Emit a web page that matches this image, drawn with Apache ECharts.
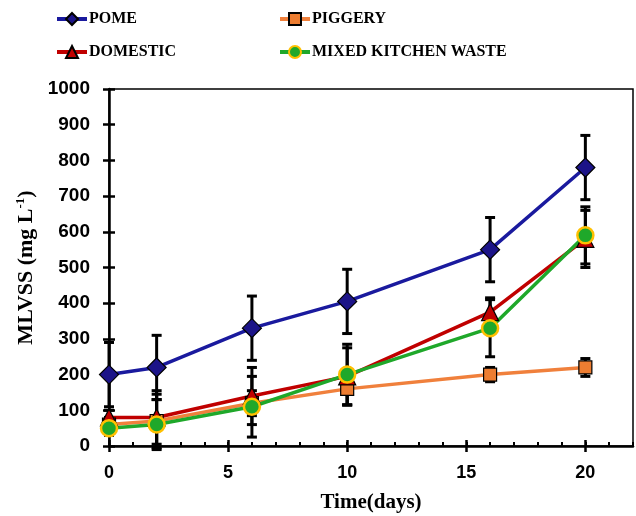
<!DOCTYPE html>
<html>
<head>
<meta charset="utf-8">
<script src="https://cdn.jsdelivr.net/npm/echarts@6/dist/echarts.min.js"></script>
<style>
  html, body { margin: 0; padding: 0; background: #fff; }
  #chart { width: 636px; height: 516px; }
</style>
</head>
<body>
<div id="chart"></div>
<script>
const days = [0, 2, 6, 10, 16, 20];

const pome = [200, 220, 330, 405, 550, 780];
const pomeErr = [90, 90, 90, 90, 90, 90];
const piggery = [60, 70, 120, 160, 200, 220];
const piggeryErr = [20, 75, 35, 45, 20, 25];
const domestic = [80, 80, 140, 195, 375, 580];
const domesticErr = [20, 75, 80, 80, 40, 80];
const mixed = [50, 60, 110, 200, 330, 590];
const mixedErr = [20, 70, 85, 85, 80, 80];

const xTicks = [0, 5, 10, 15, 20];
const yTicks = [0, 100, 200, 300, 400, 500, 600, 700, 800, 900, 1000];

const serif = '"Liberation Serif", "Times New Roman", serif';
const sans = '"Liberation Sans", Arial, sans-serif';

const chart = echarts.init(document.getElementById('chart'));

// 数据转换
const pairs = (vals) => vals.map((v, i) => [days[i], v]);
const errRows = (vals, errs) => vals.map((v, i) => [days[i], v - errs[i], v + errs[i]]);

const errorBars = (name, vals, errs) => ({
  name: name + ' err',
  type: 'custom',
  z: 1,
  silent: true,
  data: errRows(vals, errs),
  encode: { x: 0, y: [1, 2] },
  renderItem: (params, api) => {
    const lo = api.coord([api.value(0), api.value(1)]);
    const hi = api.coord([api.value(0), api.value(2)]);
    const cap = 5;
    const style = { stroke: '#000', lineWidth: 3 };
    return {
      type: 'group',
      children: [
        { type: 'line', shape: { x1: lo[0], y1: lo[1], x2: hi[0], y2: hi[1] }, style },
        { type: 'line', shape: { x1: lo[0] - cap, y1: lo[1], x2: lo[0] + cap, y2: lo[1] }, style },
        { type: 'line', shape: { x1: hi[0] - cap, y1: hi[1], x2: hi[0] + cap, y2: hi[1] }, style }
      ]
    };
  }
});

const lineSeries = (name, vals, color, symbol, size, fill, border, borderWidth) => ({
  name,
  type: 'line',
  z: 3,
  data: pairs(vals),
  symbol,
  symbolSize: size,
  showAllSymbol: true,
  lineStyle: { color, width: 3.5 },
  itemStyle: { color: fill, borderColor: border, borderWidth }
});

const legendItem = (name, left, top) => ({
  data: [name],
  left,
  top,
  itemWidth: 30,
  itemHeight: 15,
  lineStyle: { width: 4 },
  textStyle: { fontFamily: serif, fontWeight: 'bold', fontSize: 16, color: '#000', padding: [0, 0, 0, -3] }
});

const xBase = { type: 'value', min: 0, max: 22, position: 'bottom', splitLine: { show: false } };
const yBase = { type: 'value', min: 0, max: 1000, interval: 100, splitLine: { show: false } };

const option = {
  animation: false,
  backgroundColor: '#fff',
  legend: [
    legendItem('POME', 50, 6),
    legendItem('PIGGERY', 273, 6),
    legendItem('DOMESTIC', 50, 39),
    legendItem('MIXED KITCHEN WASTE', 273, 39)
  ],
  grid: {
    left: 109, right: 3, top: 89, bottom: 70,
    outerBoundsMode: 'none',
    show: true, borderColor: '#000', borderWidth: 1.5
  },
  xAxis: [
    Object.assign({}, xBase, {
      interval: 5,
      name: 'Time(days)',
      nameLocation: 'middle',
      nameGap: 46,
      nameTextStyle: { fontFamily: serif, fontWeight: 'bold', fontSize: 21, color: '#000' },
      axisLine: { lineStyle: { color: '#000', width: 2.5 } },
      axisTick: { length: 6, customValues: xTicks, lineStyle: { color: '#000', width: 2.5 } },
      axisLabel: {
        margin: 18,
        fontFamily: sans, fontWeight: 'bold', fontSize: 18, color: '#000',
        customValues: xTicks
      }
    }),
    Object.assign({}, xBase, {
      interval: 5,
      axisLine: { show: false },
      axisTick: { inside: true, length: 6, customValues: xTicks, lineStyle: { color: '#000', width: 2.5 } },
      axisLabel: { show: false }
    }),
    Object.assign({}, xBase, {
      interval: 1,
      axisLine: { show: false },
      axisTick: { inside: true, length: 4, lineStyle: { color: '#000', width: 2 } },
      axisLabel: { show: false }
    })
  ],
  yAxis: [
    Object.assign({}, yBase, {
      name: 'MLVSS (mg L{sup|-1})',
      nameLocation: 'middle',
      nameGap: 70,
      nameTextStyle: {
        fontFamily: serif, fontWeight: 'bold', fontSize: 22, color: '#000',
        rich: {
          sup: { fontFamily: serif, fontWeight: 'bold', fontSize: 13, color: '#000', verticalAlign: 'top', padding: [0, 0, 10, 0] }
        }
      },
      axisLine: { show: true, lineStyle: { color: '#000', width: 2.5 } },
      axisTick: { show: true, length: 6, lineStyle: { color: '#000', width: 2.5 } },
      axisLabel: {
        margin: 19,
        fontFamily: sans, fontWeight: 'bold', fontSize: 19, color: '#000',
        formatter: (v) => String(v),
        customValues: yTicks
      }
    }),
    Object.assign({}, yBase, {
      position: 'left',
      axisLine: { show: false },
      axisTick: { show: true, inside: true, length: 6, lineStyle: { color: '#000', width: 2.5 } },
      axisLabel: { show: false }
    })
  ],
  series: [
    errorBars('POME', pome, pomeErr),
    errorBars('PIGGERY', piggery, piggeryErr),
    errorBars('DOMESTIC', domestic, domesticErr),
    errorBars('MIXED KITCHEN WASTE', mixed, mixedErr),
    lineSeries('PIGGERY', piggery, '#f0803c', 'rect', 13, '#ed7d31', '#000', 1.2),
    lineSeries('DOMESTIC', domestic, '#c00000', 'triangle', 17, '#c00000', '#000', 1.2),
    lineSeries('MIXED KITCHEN WASTE', mixed, '#1fa82a', 'circle', 16, '#1fa82a', '#ffc000', 2.5),
    lineSeries('POME', pome, '#1a1a9e', 'diamond', 19, '#1c1488', '#000', 1.2)
  ]
};

chart.setOption(option);
</script>
</body>
</html>
